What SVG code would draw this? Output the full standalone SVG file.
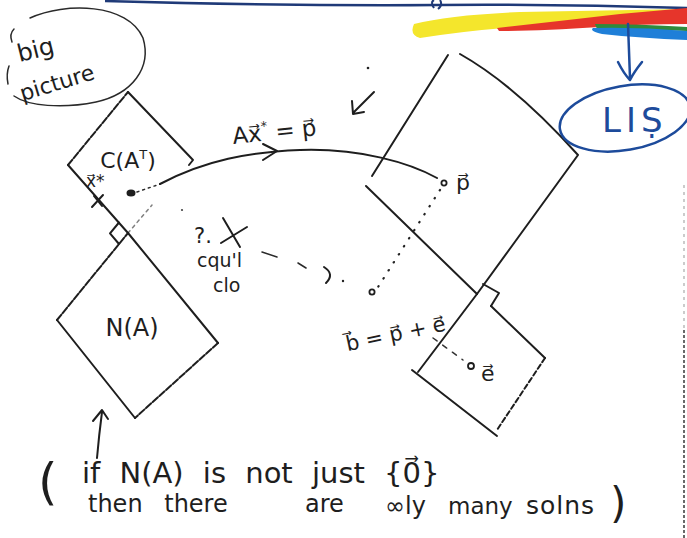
<svg xmlns="http://www.w3.org/2000/svg" width="687" height="538" viewBox="0 0 687 538">
<style>
.pen{fill:none;stroke:#1e1e1e;stroke-width:2;stroke-linecap:round;stroke-linejoin:round}
.thin{fill:none;stroke:#2a2a2a;stroke-width:1.5;stroke-linecap:round}
.skip{stroke-dasharray:7 2}
.dots{fill:none;stroke:#222;stroke-width:2.2;stroke-linecap:round;stroke-dasharray:0.5 9}
.dash{fill:none;stroke:#333;stroke-width:1.5;stroke-linecap:round;stroke-dasharray:5 7}
.blue{fill:none;stroke:#1d4b9b;stroke-width:2.5;stroke-linecap:round;stroke-linejoin:round}
.t{font-family:"DejaVu Sans","Liberation Sans",sans-serif;fill:#1e1e1e}
</style>
<rect width="687" height="538" fill="#ffffff"/>

<g id="top-strokes">
<path d="M105,1 Q280,6 437,5 Q560,4 687,8" fill="none" stroke="#1f3a78" stroke-width="2.5"/>
<path d="M434,8 Q430,2 434,0 M440,0 Q443,5 438,9" fill="none" stroke="#1f3a78" stroke-width="2"/>
<path d="M414,24 Q450,15 520,12 L687,9 L687,21 Q600,22 530,26 Q470,30 420,38 Q409,35 414,24 Z" fill="#f4e62c"/>
<path d="M497,28 Q560,21 620,14 L687,8 L687,24 Q640,24 600,27 Q540,31 499,31 Z" fill="#e6352b"/>
<path d="M595,24 Q640,24 687,27 L687,31 Q640,29 597,29 Z" fill="#2f8a3c"/>
<path d="M593,28 Q640,27 687,31 L687,40 Q640,38 602,34 Q589,31 593,28 Z" fill="#1f7fd8"/>
</g>

<g id="big-picture">
<path class="thin" d="M30,18 C65,2 128,3 143,38 C152,68 132,94 96,102 C62,109 28,106 14,96"/>
<path class="thin" d="M12,42 Q9,34 14,29 M8,84 Q6,74 9,66"/>
<text class="t" x="17" y="58" font-size="24" transform="rotate(-14 35 50)">big</text>
<text class="t" x="16" y="86" font-size="22" transform="rotate(-17 70 72)">picture</text>
</g>

<g id="row-space">
<path class="pen skip" d="M68,165 L128,92"/>
<path class="pen" d="M128,92 L193,160 L189,165"/>
<path class="pen" d="M68,165 L128,233"/>
<path class="thin" d="M128,233 L152,205" stroke-dasharray="3 4" opacity="0.6"/>
<path class="pen" d="M92,207 L103,195 M94,196 L102,206"/>
<text class="t" x="128" y="168" font-size="22" text-anchor="middle">C(A<tspan font-size="13" dy="-9">T</tspan><tspan dy="9">)</tspan></text>
<text class="t" x="86" y="187" font-size="17">x&#x20D7;*</text>
<ellipse cx="131" cy="193" rx="4.5" ry="3.5" fill="#1e1e1e"/>
</g>

<g id="null-space">
<path class="pen" d="M128,233 L218,343"/>
<path class="pen skip" d="M218,343 L135,418"/>
<path class="pen" d="M135,418 L57,320"/>
<path class="pen skip" d="M57,320 L128,233"/>
<polyline class="pen" points="119,222.5 110,233.4 119,244"/>
<text class="t" x="132" y="336" font-size="24" text-anchor="middle">N(A)</text>
</g>

<g id="col-space">
<path class="pen" d="M448,55 L372,176"/>
<path class="pen" d="M366,186 L477,294"/>
<path class="pen" d="M460,54 Q515,85 578,155 L477,294"/>
<polyline class="pen" points="483,284 499,293 491,306"/>
<circle cx="444" cy="183" r="2.6" fill="none" stroke="#1e1e1e" stroke-width="1.8"/>
<text class="t" x="456" y="190" font-size="22">p&#x20D7;</text>
</g>

<g id="left-null-space">
<path class="pen" d="M477,294 L418,372"/>
<path class="pen" d="M412,370 L497,436"/>
<path class="pen" d="M491,306 L545,358"/>
<path class="pen" d="M545,358 L497,430" stroke-dasharray="5 3"/>
<circle cx="471" cy="366" r="3" fill="none" stroke="#1e1e1e" stroke-width="1.8"/>
<text class="t" x="481" y="381" font-size="22">e&#x20D7;</text>
</g>

<g id="lis">
<ellipse cx="625" cy="118" rx="66" ry="32" transform="rotate(-10 625 118)" class="blue"/>
<text x="602" y="132" font-size="34" letter-spacing="5" fill="#1d4b9b" font-family="'DejaVu Sans','Liberation Sans',sans-serif">LIṢ</text>
</g>

<g id="connectors">
<path class="thin" d="M137,192 L160,184" stroke-dasharray="2 4"/>
<path class="pen" d="M160,184 C205,160 250,152 300,150 C360,148 410,163 437,178" stroke-width="1.7"/>
<polyline class="pen" points="263,144 277,151 263,160"/>
<path class="dots" d="M440,190 L378,287"/>
<circle cx="372" cy="292" r="2.6" fill="none" stroke="#1e1e1e" stroke-width="1.8"/>
<path class="dash" d="M433,338 L463,360"/>
<path class="thin" d="M262,252 L277,257 M298,263 L306,268"/>
<path class="pen" d="M324,267 Q335,274 326,283"/>
<circle cx="343" cy="281" r="1.2" fill="#222"/>
<circle cx="182" cy="210" r="1.1" fill="#444"/>
<path class="pen" d="M223,218 L240,247 M221,243 L247,227"/>
<path class="pen" d="M97,458 Q99,435 102,412 M93,421 L102,410 L108,419"/>
<path class="blue" d="M628,24 L630,78 M618,62 Q624,74 630,80 Q634,72 642,62"/>
<path class="pen" d="M374,92 L354,112 M352,101 L353,114 L364,112" stroke-width="1.6"/>
<circle cx="368" cy="68" r="1.3" fill="#222"/>
<path d="M684,185 L684,330" stroke="#aaa" stroke-width="1.2" stroke-dasharray="3 4"/>
<path d="M684,330 L684,538" stroke="#444" stroke-width="1.6" stroke-dasharray="3 2"/>
</g>

<g id="labels">
<text class="t" x="232" y="139" font-size="23" transform="rotate(-6 280 130)">Ax&#x20D7;<tspan font-size="13" dy="-10">*</tspan><tspan dy="10"> = p&#x20D7;</tspan></text>
<text class="t" x="344" y="342" font-size="21" transform="rotate(-12 390 330)">b&#x20D7; = p&#x20D7; + e&#x20D7;</text>
<text class="t" x="194" y="243" font-size="21">?.</text>
<text class="t" x="197" y="267" font-size="19">cqu'l</text>
<text class="t" x="213" y="292" font-size="19">clo</text>
</g>

<g id="note">
<text class="t" x="38" y="499" font-size="50">(</text>
<text class="t" x="82" y="483" font-size="29" word-spacing="10">if N(A) is not just {0&#x20D7;}</text>
<text class="t" x="88" y="512" font-size="24" word-spacing="14">then there</text>
<text class="t" x="305" y="512" font-size="24">are</text>
<text class="t" x="385" y="514" font-size="24">∞ly</text>
<text class="t" x="448" y="514" font-size="23">many</text>
<text class="t" x="526" y="514" font-size="25" letter-spacing="1">solns</text>
<text class="t" x="610" y="518" font-size="42">)</text>
</g>
</svg>
